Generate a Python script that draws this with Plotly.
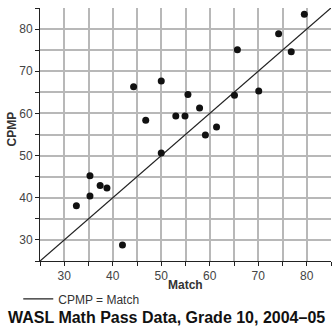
import plotly.graph_objects as go

match = [32.5, 35.3, 35.3, 37.4, 38.8, 42.0, 44.3, 46.8, 50.0, 50.0, 53.0, 54.9,
         55.5, 57.9, 59.1, 61.4, 65.1, 65.7, 70.1, 74.2, 76.8, 79.5]
cpmp = [38.1, 45.2, 40.4, 42.9, 42.3, 28.8, 66.3, 58.4, 67.7, 50.6, 59.4, 59.4,
        64.5, 61.3, 54.9, 56.8, 64.3, 75.1, 65.3, 78.9, 74.6, 83.5]
ref_line = [25, 85]
tick_vals = [25, 30, 35, 40, 45, 50, 55, 60, 65, 70, 75, 80, 85]
tick_text = ["", "30", "", "40", "", "50", "", "60", "", "70", "", "80", ""]

fig = go.Figure()
fig.add_trace(go.Scatter(x=ref_line, y=ref_line, mode="lines",
                         line=dict(color="#222", width=1.3),
                         name="CPMP = Match", showlegend=True))
fig.add_trace(go.Scatter(x=match, y=cpmp, mode="markers",
                         marker=dict(color="#111", size=7),
                         showlegend=False))

axis_common = dict(range=[25, 85], automargin=False,
                   showgrid=True, gridcolor="#b8b8b8", gridwidth=1.5,
                   showline=True, linecolor="#222", linewidth=1,
                   ticks="outside", ticklen=4, tickcolor="#222",
                   zeroline=False, tickfont=dict(family="Liberation Sans", size=12, color="#444"),
                   tickvals=tick_vals, ticktext=tick_text)

fig.update_xaxes(**axis_common)
fig.update_yaxes(**axis_common)

title_font = dict(family="Liberation Sans", size=12, color="#333")
fig.update_layout(
    width=332, height=328,
    margin=dict(l=40, r=1, t=8, b=67),
    plot_bgcolor="white", paper_bgcolor="white",
    legend=dict(orientation="h", x=0.055, xref="container", y=0.133, yref="container",
                xanchor="left", yanchor="top",
                font=dict(family="Liberation Sans", size=12, color="#333"),
                itemwidth=30, bgcolor="rgba(0,0,0,0)"),
    annotations=[
        dict(text="<b>Match</b>", xref="paper", yref="paper", x=0.5, y=-0.095,
             xanchor="center", yanchor="middle", showarrow=False, font=title_font),
        dict(text="<b>CPMP</b>", xref="paper", yref="paper", x=-0.096, y=0.52,
             xanchor="center", yanchor="middle", showarrow=False, textangle=-90,
             font=title_font),
        dict(text="<b>WASL Math Pass Data, Grade 10, 2004–05</b>",
             xref="paper", yref="paper", x=0.433, y=-0.225,
             xanchor="center", yanchor="middle", showarrow=False,
             font=dict(family="Liberation Sans", size=16, color="#111"))]
)

fig.write_html("out.html", config={"displayModeBar": False},
               post_script="document.body.style.margin='0';")
